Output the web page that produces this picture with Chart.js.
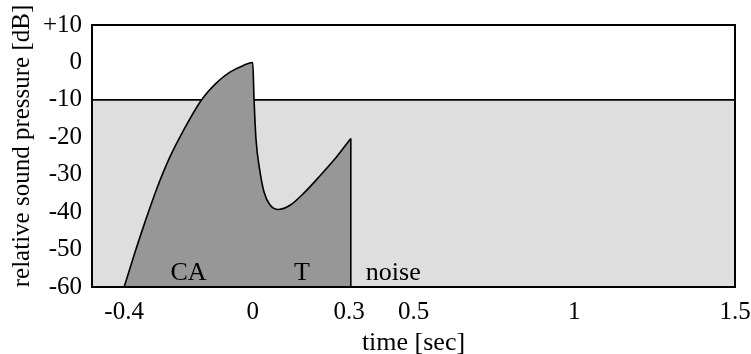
<!DOCTYPE html>
<html>
<head>
<meta charset="utf-8">
<script src="https://cdn.jsdelivr.net/npm/chart.js@4/dist/chart.umd.min.js"></script>
<style>
  body { margin: 0; background: #fff; }
</style>
</head>
<body>
<canvas id="spl-chart" width="751" height="354"></canvas>
<script>
// call envelope: attack (CA) up to the peak at t = 0, then the tail (T) until the cut-off
var envTime = [-0.4, -0.368, -0.335, -0.298, -0.259, -0.217, -0.16, -0.112, -0.071, -0.029, 0,
               0.004, 0.010, 0.021, 0.035, 0.054, 0.080, 0.117, 0.158, 0.210, 0.263, 0.305];
var envLevel = [-60, -51.2, -42.6, -33.6, -25.5, -18.4, -10.1, -5.4, -2.6, -0.8, 0,
                -9.8, -20.4, -28.4, -34.6, -38.1, -39.3, -38.1, -35.0, -30.2, -25.0, -20.3];

// cut-off edge at the end of the tail
var cutTime = [0.305, 0.305];
var cutLevel = [-20.3, -60];

// background noise band
var noiseTime = [-0.5, 1.5];
var noiseLevel = [-10, -10];
var floorLevel = -60;

var xTicks = [-0.4, 0, 0.3, 0.5, 1, 1.5];
var yTicks = [10, 0, -10, -20, -30, -40, -50, -60];

var noteText = ['CA', 'T', 'noise'];
var noteTime = [-0.2, 0.153, 0.437];
var noteLevel = [-58, -58, -58];

var yTitle = 'relative sound pressure [dB]';

var serif = '"Liberation Serif", "DejaVu Serif", serif';

function toPoints(xs, ys) {
    return xs.map((x, i) => ({x: x, y: ys[i]}));
}

var frameAndNotes = {
    id: 'frameAndNotes',
    afterDatasetsDraw: function(chart) {
        var ctx = chart.ctx;
        var xs = chart.scales.x, ys = chart.scales.y;
        ctx.save();
        ctx.fillStyle = '#000';
        ctx.font = '26px ' + serif;
        ctx.textAlign = 'center';
        ctx.textBaseline = 'alphabetic';
        noteText.forEach((t, i) => {
            ctx.fillText(t, xs.getPixelForValue(noteTime[i]), ys.getPixelForValue(noteLevel[i]));
        });
        var a = chart.chartArea;
        ctx.strokeStyle = '#000';
        ctx.lineWidth = 2;
        ctx.strokeRect(a.left, a.top, a.right - a.left, a.bottom - a.top);

        // y axis title, a bit above the middle of the plot
        ctx.font = '25px ' + serif;
        ctx.translate(22, 146);
        ctx.rotate(-Math.PI / 2);
        ctx.textBaseline = 'middle';
        ctx.fillText(yTitle, 0, 0);
        ctx.restore();
    }
};

var lineStyle = {
    borderColor: '#000',
    borderWidth: 1.6,
    pointRadius: 0,
    tension: 0
};

var ctx = document.getElementById('spl-chart');
var chart = new Chart(ctx, {
    type: 'line',
    data: {
        datasets: [
            Object.assign({}, lineStyle, {data: toPoints(cutTime, cutLevel), fill: false}),
            Object.assign({}, lineStyle, {
                data: toPoints(envTime, envLevel),
                cubicInterpolationMode: 'monotone',
                backgroundColor: '#979797',
                fill: {value: floorLevel}
            }),
            Object.assign({}, lineStyle, {
                data: toPoints(noiseTime, noiseLevel),
                backgroundColor: '#dedede',
                fill: {value: floorLevel}
            })
        ]
    },
    options: {
        responsive: false,
        animation: false,
        layout: {padding: {top: 24, right: 16, left: 0, bottom: 0}},
        plugins: {legend: {display: false}, tooltip: {enabled: false}},
        scales: {
            x: {
                type: 'linear',
                min: -0.5,
                max: 1.5,
                afterBuildTicks: function(scale) { scale.ticks = xTicks.map(v => ({value: v})); },
                afterFit: function(scale) {
                    scale.height = 67;
                    scale.paddingLeft = 0;
                    scale.paddingRight = 0;
                },
                grid: {display: false, drawTicks: false},
                border: {display: false},
                ticks: {
                    color: '#000',
                    padding: 10,
                    font: {family: serif, size: 25},
                    callback: v => String(v)
                },
                title: {
                    display: true,
                    text: 'time [sec]',
                    color: '#000',
                    font: {family: serif, size: 26},
                    padding: {top: 0, bottom: -5}
                }
            },
            y: {
                min: -60,
                max: 10,
                afterBuildTicks: function(scale) { scale.ticks = yTicks.map(v => ({value: v})); },
                afterFit: function(scale) { scale.width = 92; },
                grid: {display: false, drawTicks: false},
                border: {display: false},
                ticks: {
                    color: '#000',
                    padding: 10,
                    font: {family: serif, size: 25},
                    callback: v => (v > 0 ? '+' + v : String(v))
                }
            }
        }
    },
    plugins: [frameAndNotes]
});
</script>
</body>
</html>
